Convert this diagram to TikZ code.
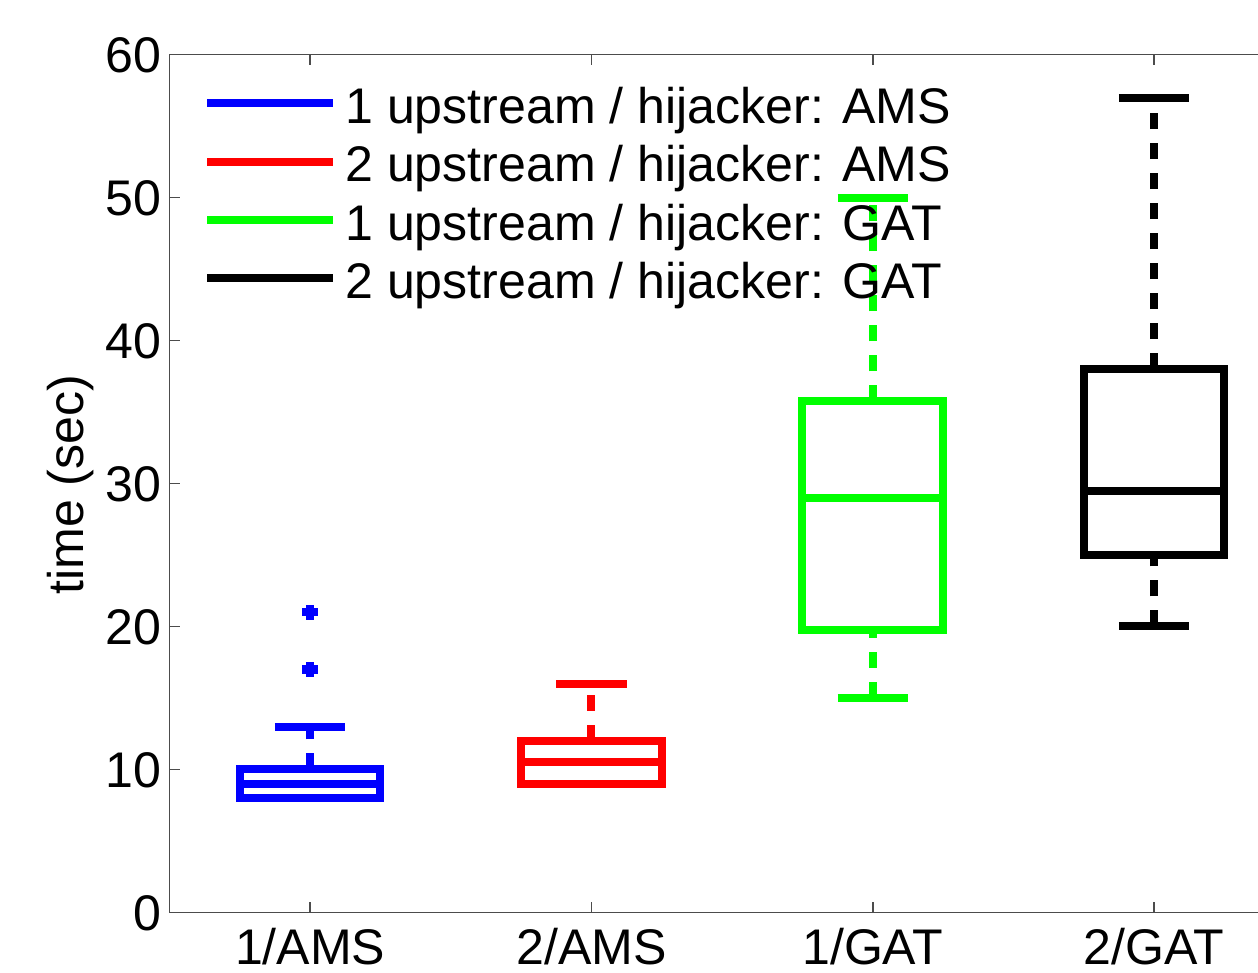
\documentclass[tikz,border=0pt]{standalone}
\usepackage{fontspec}
\setmainfont{Liberation Sans}
\usepackage{tikz}
\usetikzlibrary{positioning}
\usetikzlibrary{calc}

\tikzset{
	lbl/.style={font=\fontsize{28.5}{34}\selectfont, inner sep=0pt},
	axisline/.style={draw=black!70, line width=0.03cm},
	boxline/.style={line width=0.16cm},
	whisk/.style={line width=0.16cm, dash pattern=on 0.32cm off 0.28cm},
}

% box: position, colour, low cap, q1, median, q3, high cap
\newcommand{\plotbox}[7]{
	\draw[whisk, #2] (#1,#3) -- (#1,#4);
	\draw[whisk, #2] (#1,#6) -- (#1,#7);
	\draw[boxline, #2] (#1-0.125,#3) -- (#1+0.125,#3);
	\draw[boxline, #2] (#1-0.125,#7) -- (#1+0.125,#7);
	\draw[boxline, #2] (#1-0.25,#4) rectangle (#1+0.25,#6);
	\draw[boxline, #2] (#1-0.25,#5) -- (#1+0.25,#5);
}

\begin{document}
\begin{tikzpicture}[x={(5.6267cm,0)}, y={(0,0.2859cm)}]

	\clip (-0.1026,-4.217) rectangle (4.3695,63.83);

	%Axes
	\coordinate (O) at (0.5,0);
	\coordinate (T) at (0.5,60);
	\draw[axisline] (4.5,0) -- (O) -- (T) -- (4.5,60);
	\foreach \v in {0,10,...,60}{
		\draw[axisline] (0.5,\v) -- ++(0.2cm,0);
		\node[lbl, anchor=base east] (Y\v) at ($(0.5,\v)+(-0.15cm,-0.36cm)$) {\v};
	}
	\foreach \c/\name in {1/{1/AMS}, 2/{2/AMS}, 3/{1/GAT}, 4/{2/GAT}}{
		\draw[axisline] (\c,0) -- ++(0,0.2cm);
		\draw[axisline] (\c,60) -- ++(0,-0.2cm);
		\node[lbl, anchor=base] (X\c) at ($(\c,0)+(0,-1.05cm)$) {\name};
	}
	\node[lbl, anchor=base, rotate=90] (YLabel) at (0.1925,29.92) {time (sec)};

	%Boxes
	\plotbox{1}{blue}{8}{8}{9}{10}{13}
	\plotbox{2}{red}{9}{9}{10.5}{12}{16}
	\plotbox{3}{green}{15}{19.75}{29}{35.75}{50}
	\plotbox{4}{black}{20}{25}{29.5}{38}{57}

	%Outliers
	\foreach \v in {17,21}{
		\coordinate (P\v) at (1,\v);
		\draw[blue, line width=0.17cm] ($(P\v)+(-0.16cm,0)$) -- ($(P\v)+(0.16cm,0)$);
		\draw[blue, line width=0.17cm] ($(P\v)+(0,-0.15cm)$) -- ($(P\v)+(0,0.15cm)$);
	}

	%Legend
	\foreach \i/\col/\txt [count=\k] in {56.62/blue/{1 upstream / hijacker: AMS},
		52.52/red/{2 upstream / hijacker: AMS},
		48.41/green/{1 upstream / hijacker: GAT},
		44.35/black/{2 upstream / hijacker: GAT}}{
		\coordinate (La\k) at (0.6333,\i);
		\coordinate (Lb\k) at (1.0812,\i);
		\draw[boxline, \col] (La\k) -- (Lb\k);
		\node[lbl, anchor=base west] (Lt\k) at ($(Lb\k)+(0.24cm,-0.4cm)$) {\txt};
	}

\end{tikzpicture}
\end{document}
